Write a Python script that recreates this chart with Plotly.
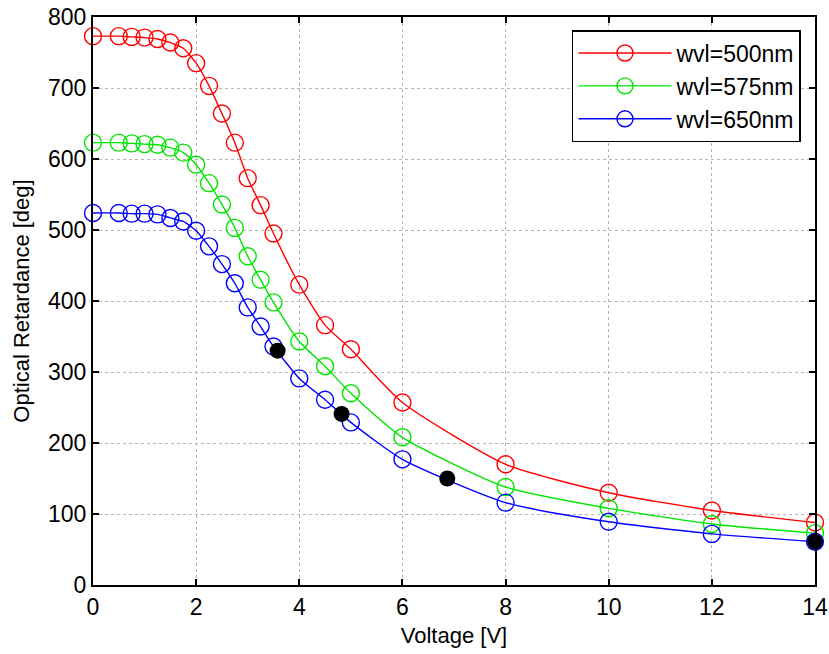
import plotly.graph_objects as go

voltage = [0, 0.5, 0.75, 1.0, 1.25, 1.5, 1.75, 2.0, 2.25, 2.5, 2.75, 3.0, 3.25, 3.5,
           4, 4.5, 5, 6, 8, 10, 12, 14]
ret_500 = [773, 773, 772, 771, 769, 764, 756, 735, 703, 664, 623, 573, 535, 495,
           423, 366, 332, 257, 170, 130, 105, 88]
ret_575 = [623, 623, 622, 621, 620, 616, 609, 592, 566, 536, 503, 463, 430, 398,
           343, 308, 270, 208, 138, 108, 86, 73]
ret_650 = [524, 524, 523, 523, 522, 517, 512, 499, 477, 452, 425, 391, 364, 336,
           291, 261, 229, 177, 116, 89, 72, 61]
series_names = ["wvl=500nm", "wvl=575nm", "wvl=650nm"]
series_colors = ["#ff0000", "#00e600", "#0000ff"]

dot_v = [3.58, 4.82, 6.87, 14]
dot_r = [330, 241, 150, 61]

font_family = "Liberation Sans, Arial, sans-serif"

fig = go.Figure()
for name, vals, col in zip(series_names, [ret_500, ret_575, ret_650], series_colors):
    fig.add_trace(go.Scatter(
        x=voltage, y=vals, name=name, mode="lines+markers",
        line=dict(color=col, width=1.4, shape="spline", smoothing=0.6),
        marker=dict(symbol="circle-open", size=17, color=col, line=dict(width=1.4, color=col)),
        cliponaxis=False,
    ))

fig.add_trace(go.Scatter(
    x=dot_v, y=dot_r, mode="markers", showlegend=False,
    marker=dict(symbol="circle", size=16, color="black"),
    cliponaxis=False,
))

axis_common = dict(
    showline=True, linecolor="black", linewidth=2, mirror="ticks",
    ticks="inside", ticklen=6, tickwidth=2, tickcolor="black",
    showgrid=True, gridcolor="#b4b4b4", gridwidth=1, griddash="dot",
    zeroline=False, automargin=False, ticklabeloverflow="allow",
    tickfont=dict(size=23, color="black", family=font_family),
)

fig.update_xaxes(range=[0, 14], dtick=2, tick0=0,
                 title=dict(text="Voltage [V]", font=dict(size=22, color="black", family=font_family), standoff=9),
                 **axis_common)
fig.update_yaxes(range=[0, 800], dtick=100, tick0=0,
                 title=dict(text="Optical Retardance [deg]", font=dict(size=22, color="black", family=font_family), standoff=12),
                 **axis_common)

fig.update_layout(
    width=829, height=654,
    margin=dict(l=93, r=14, t=17, b=69, autoexpand=False),
    paper_bgcolor="white", plot_bgcolor="white",
    font=dict(family=font_family, color="black"),
    legend=dict(
        x=0.9806, xanchor="right", y=0.977, yanchor="top",
        bgcolor="white", bordercolor="black", borderwidth=1.5,
        font=dict(size=23, color="black", family=font_family),
        itemwidth=93, tracegroupgap=0,
    ),
    showlegend=True,
)

fig.write_html(
    "out.html",
    config={"displayModeBar": False},
    post_script=(
        "document.documentElement.style.margin='0';"
        "document.documentElement.style.overflow='hidden';"
        "document.body.style.margin='0';"
        "document.body.style.overflow='hidden';"
    ),
)
